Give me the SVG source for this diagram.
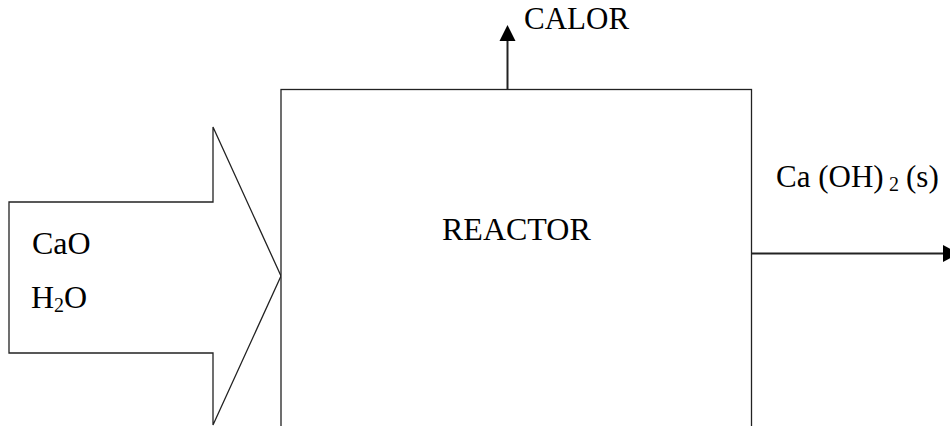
<svg xmlns="http://www.w3.org/2000/svg" width="950" height="426" viewBox="0 0 950 426">
  <defs>
    <style>
      .shape { fill: #ffffff; stroke: #222; stroke-width: 1.3; }
      .conn { fill: none; stroke: #222; stroke-width: 2; }
      .head { fill: #000; stroke: none; }
      text { font-family: 'Liberation Serif', 'DejaVu Serif', serif; font-size: 32px; fill: #000; }
      .sub { font-size: 20px; }
    </style>
  </defs>
  <rect width="950" height="426" fill="#ffffff"/>

  <g id="feed">
    <polygon class="shape" points="9,202 213,202 213,127 281,276 213,425 213,353 9,353"/>
    <text x="32" y="254">CaO</text>
    <text x="31" y="308">H<tspan class="sub" dy="4">2</tspan><tspan dy="-4">O</tspan></text>
  </g>

  <g id="reactor">
    <rect class="shape" x="281" y="89.5" width="470.5" height="360"/>
    <text x="442" y="240">REACTOR</text>
  </g>

  <g id="connectors">
    <line class="conn" x1="507.5" y1="89.5" x2="507.5" y2="40"/>
    <polygon class="head" points="499.5,41 515.5,41 507.5,25"/>
    <line class="conn" x1="751.5" y1="253.5" x2="945" y2="253.5"/>
    <polygon class="head" points="943,245 943,262 959,253.5"/>
  </g>

  <g id="labels">
    <text x="524" y="29" style="font-size:31px">CALOR</text>
    <text x="776" y="187" style="font-size:31px" xml:space="preserve">Ca (OH)<tspan class="sub" x="889" dy="4">2</tspan><tspan x="906" dy="-4">(s)</tspan></text>
  </g>
</svg>
